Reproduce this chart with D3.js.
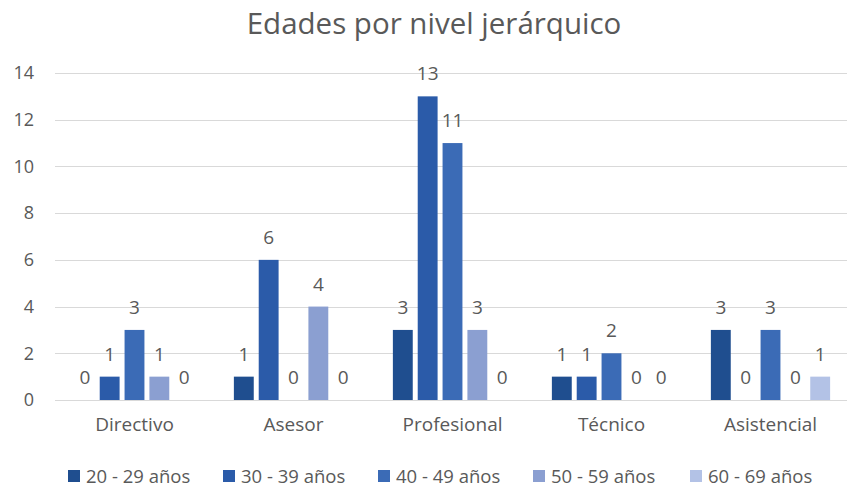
<!DOCTYPE html>
<html>
<head>
<meta charset="utf-8">
<script src="https://cdn.jsdelivr.net/npm/d3@7"></script>
<style>
  body { margin: 0; background: #fff; }
  text { font-family: "Open Sans", "Noto Sans", sans-serif; fill: #595959; }
</style>
</head>
<body>
<div id="chart"></div>
<script>
// data
const categories = ["Directivo", "Asesor", "Profesional", "Técnico", "Asistencial"];
const series = ["20 - 29 años", "30 - 39 años", "40 - 49 años", "50 - 59 años", "60 - 69 años"];
const colors = ["#1f4e8f", "#2b5ba9", "#3b6bb6", "#8b9fd1", "#b3c2e6"];
const values = [
  [0, 1, 3, 1, 0],   // Directivo
  [1, 6, 0, 4, 0],   // Asesor
  [3, 13, 11, 3, 0], // Profesional
  [1, 1, 2, 0, 0],   // Técnico
  [3, 0, 3, 0, 1]    // Asistencial
];
const yTicks = [0, 2, 4, 6, 8, 10, 12, 14];

const width = 847, height = 489;
const margin = {top: 73, right: -3, bottom: 89, left: 55};

const svg = d3.select("#chart").append("svg")
    .attr("width", width)
    .attr("height", height);

const x0 = d3.scaleBand()
    .domain(categories)
    .range([margin.left, width - margin.right])
    .paddingInner(0.25)
    .paddingOuter(0.125);

const x1 = d3.scaleBand()
    .domain(series)
    .range([0, x0.bandwidth()])
    .paddingInner(0.2);

const y = d3.scaleLinear()
    .domain([0, 14])
    .range([height - margin.bottom, margin.top]);

const color = d3.scaleOrdinal().domain(series).range(colors);

// title
svg.append("text")
    .attr("x", 434)
    .attr("y", 34)
    .attr("text-anchor", "middle")
    .style("font-size", "29.5px")
    .text("Edades por nivel jerárquico");

// gridlines
svg.append("g").selectAll("line")
    .data(yTicks)
    .join("line")
      .attr("x1", margin.left)
      .attr("x2", width)
      .attr("y1", d => Math.round(y(d)) + 0.5)
      .attr("y2", d => Math.round(y(d)) + 0.5)
      .attr("stroke", "#d9d9d9")
      .attr("stroke-width", 1);

// y axis labels
const yAxis = svg.append("g")
    .attr("transform", `translate(${margin.left},0)`)
    .call(d3.axisLeft(y).tickValues(yTicks).tickSize(0).tickPadding(21));
yAxis.select(".domain").remove();
yAxis.selectAll("text")
    .style("font-size", "18px")
    .style("font-family", "'Open Sans', sans-serif")
    .attr("fill", "#595959");

// x axis labels
const xAxis = svg.append("g")
    .attr("transform", `translate(0,${height - margin.bottom})`)
    .call(d3.axisBottom(x0).tickSize(0).tickPadding(18));
xAxis.select(".domain").remove();
xAxis.selectAll("text")
    .style("font-size", "19px")
    .style("font-family", "'Open Sans', sans-serif")
    .attr("fill", "#595959");

// bars
const groups = svg.append("g").selectAll("g")
    .data(values)
    .join("g")
      .attr("transform", (d, i) => `translate(${x0(categories[i])},0)`);

groups.selectAll("rect")
    .data(d => d.map((v, j) => ({key: series[j], value: v})))
    .join("rect")
      .attr("x", d => x1(d.key))
      .attr("y", d => y(d.value))
      .attr("width", x1.bandwidth())
      .attr("height", d => y(0) - y(d.value))
      .attr("fill", d => color(d.key));

groups.selectAll("text")
    .data(d => d.map((v, j) => ({key: series[j], value: v})))
    .join("text")
      .attr("x", d => x1(d.key) + x1.bandwidth() / 2)
      .attr("y", d => y(d.value) - 16)
      .attr("text-anchor", "middle")
      .style("font-size", "19px")
      .text(d => d.value);

// legend
const legendX = [68, 223, 378, 533, 690];
const legend = svg.append("g").selectAll("g")
    .data(series)
    .join("g")
      .attr("transform", (d, i) => `translate(${legendX[i]},470)`);

legend.append("rect")
    .attr("width", 12)
    .attr("height", 12)
    .attr("fill", d => color(d));

legend.append("text")
    .attr("x", 18)
    .attr("y", 13)
    .style("font-size", "18.5px")
    .text(d => d);
</script>
</body>
</html>
